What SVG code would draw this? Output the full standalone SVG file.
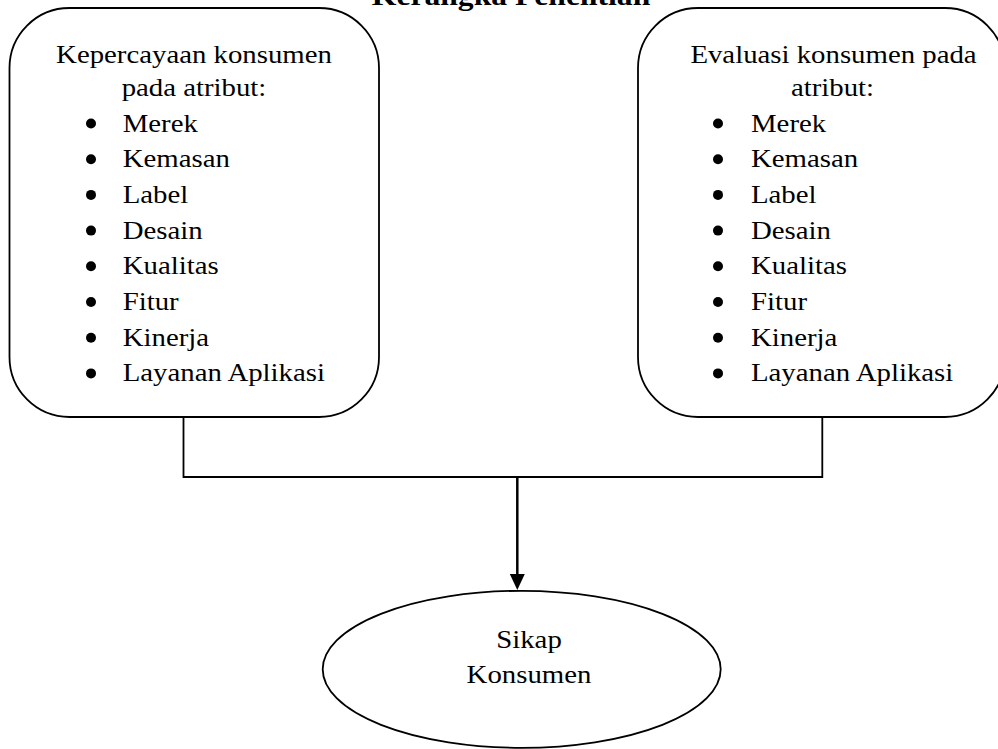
<svg xmlns="http://www.w3.org/2000/svg" width="998" height="749" viewBox="0 0 998 749">
<style>
.t{font-family:"Liberation Serif","Times New Roman",serif;font-size:25.5px;fill:#000}
.c{text-anchor:middle}
.ttl{font-family:"Liberation Serif","Times New Roman",serif;font-size:28px;font-weight:bold;text-anchor:middle;fill:#000}
.box{fill:#fff;stroke:#000;stroke-width:1.8}
.ln{fill:none;stroke:#000;stroke-width:1.8}
.b{fill:#000}
</style>
<defs>
<marker id="ah" markerUnits="userSpaceOnUse" markerWidth="16" markerHeight="18" refX="8" refY="16" orient="auto-start-reverse" viewBox="0 0 16 18">
<path d="M0.5,0 L15.5,0 L8,16 Z" fill="#000" transform="rotate(-90 8 8)"/>
</marker>
</defs>
<text class="ttl" transform="translate(511,5) scale(1.13,1)">Kerangka Penelitian</text>
<g id="connectors">
<polyline class="ln" points="183.5,417 183.5,477 822.3,477 822.3,417"/>
<line x1="517.3" y1="477" x2="517.3" y2="576" stroke="#000" stroke-width="2.5"/>
<polygon points="509.8,574 524.8,574 517.3,590" fill="#000"/>
</g>
<g id="node-kepercayaan">
<rect class="box" x="9.5" y="8" width="369.5" height="409" rx="60" ry="60"/>
<text class="t c" transform="translate(194,63) scale(1.13,1)">Kepercayaan konsumen</text>
<text class="t c" transform="translate(194,96) scale(1.13,1)">pada atribut:</text>
<circle class="b" cx="91" cy="123.5" r="5"/>
<circle class="b" cx="91" cy="159.2" r="5"/>
<circle class="b" cx="91" cy="194.9" r="5"/>
<circle class="b" cx="91" cy="230.6" r="5"/>
<circle class="b" cx="91" cy="266.3" r="5"/>
<circle class="b" cx="91" cy="302" r="5"/>
<circle class="b" cx="91" cy="337.7" r="5"/>
<circle class="b" cx="91" cy="373.4" r="5"/>
<text class="t" transform="translate(122.7,131.5) scale(1.13,1)">Merek</text>
<text class="t" transform="translate(122.7,167.2) scale(1.13,1)">Kemasan</text>
<text class="t" transform="translate(122.7,202.9) scale(1.13,1)">Label</text>
<text class="t" transform="translate(122.7,238.6) scale(1.13,1)">Desain</text>
<text class="t" transform="translate(122.7,274.3) scale(1.13,1)">Kualitas</text>
<text class="t" transform="translate(122.7,310) scale(1.13,1)">Fitur</text>
<text class="t" transform="translate(122.7,345.7) scale(1.13,1)">Kinerja</text>
<text class="t" transform="translate(122.7,381.4) scale(1.13,1)">Layanan Aplikasi</text>
</g>
<g id="node-evaluasi">
<rect class="box" x="638" y="8" width="367" height="409" rx="60" ry="60"/>
<text class="t c" transform="translate(833.5,63) scale(1.13,1)">Evaluasi konsumen pada</text>
<text class="t c" transform="translate(832.5,96) scale(1.13,1)">atribut:</text>
<circle class="b" cx="718" cy="123.5" r="5"/>
<circle class="b" cx="718" cy="159.2" r="5"/>
<circle class="b" cx="718" cy="194.9" r="5"/>
<circle class="b" cx="718" cy="230.6" r="5"/>
<circle class="b" cx="718" cy="266.3" r="5"/>
<circle class="b" cx="718" cy="302" r="5"/>
<circle class="b" cx="718" cy="337.7" r="5"/>
<circle class="b" cx="718" cy="373.4" r="5"/>
<text class="t" transform="translate(751,131.5) scale(1.13,1)">Merek</text>
<text class="t" transform="translate(751,167.2) scale(1.13,1)">Kemasan</text>
<text class="t" transform="translate(751,202.9) scale(1.13,1)">Label</text>
<text class="t" transform="translate(751,238.6) scale(1.13,1)">Desain</text>
<text class="t" transform="translate(751,274.3) scale(1.13,1)">Kualitas</text>
<text class="t" transform="translate(751,310) scale(1.13,1)">Fitur</text>
<text class="t" transform="translate(751,345.7) scale(1.13,1)">Kinerja</text>
<text class="t" transform="translate(751,381.4) scale(1.13,1)">Layanan Aplikasi</text>
</g>
<g id="node-sikap">
<ellipse class="box" cx="521.7" cy="669.3" rx="199" ry="78.5"/>
<text class="t c" transform="translate(529,648) scale(1.13,1)">Sikap</text>
<text class="t c" transform="translate(529,683) scale(1.13,1)">Konsumen</text>
</g>
</svg>
